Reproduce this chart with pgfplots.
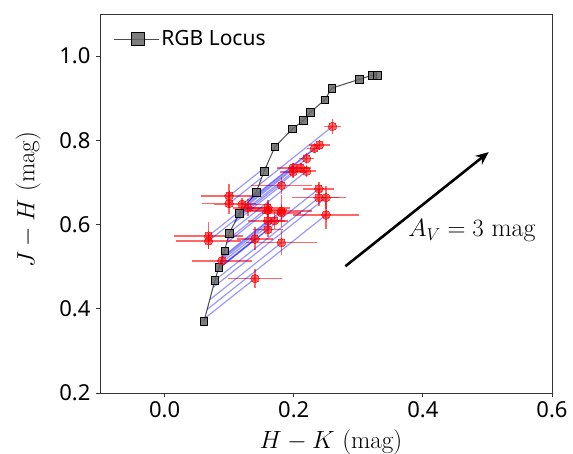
\documentclass[border=0pt]{standalone}
\usepackage{pgfplots}
\pgfplotsset{compat=1.18}
\usepackage{pgfplotstable}
\usepackage{fontspec}
\usetikzlibrary{arrows.meta}
\newfontfamily\tickfont{Noto Sans}

\pgfplotstableread{
x y ex ey
0.260 0.833 0.013 0.017
0.240 0.789 0.016 0.012
0.232 0.781 0.012 0.012
0.220 0.757 0.012 0.014
0.199 0.735 0.025 0.012
0.211 0.735 0.015 0.012
0.199 0.725 0.020 0.015
0.220 0.727 0.015 0.015
0.181 0.693 0.047 0.020
0.239 0.685 0.024 0.016
0.100 0.668 0.043 0.028
0.239 0.664 0.042 0.020
0.250 0.664 0.020 0.028
0.100 0.650 0.042 0.025
0.120 0.648 0.044 0.015
0.129 0.640 0.023 0.020
0.160 0.640 0.034 0.018
0.160 0.634 0.030 0.020
0.181 0.632 0.048 0.037
0.181 0.628 0.030 0.020
0.250 0.623 0.051 0.033
0.160 0.609 0.031 0.020
0.170 0.609 0.017 0.020
0.160 0.588 0.023 0.018
0.068 0.573 0.054 0.032
0.068 0.561 0.050 0.020
0.140 0.566 0.028 0.027
0.181 0.557 0.055 0.030
0.089 0.514 0.047 0.020
0.140 0.472 0.042 0.022
}\stars

\pgfplotstableread{
x y
0.061 0.370
0.078 0.468
0.084 0.498
0.093 0.538
0.100 0.579
0.116 0.627
0.142 0.677
0.154 0.726
0.171 0.785
0.198 0.827
0.215 0.847
0.226 0.867
0.248 0.896
0.259 0.924
0.302 0.945
0.322 0.955
0.329 0.955
}\locus

\begin{document}
\begin{tikzpicture}
\begin{axis}[
  name=main,
  scale only axis,
  width=452pt, height=379pt,
  xmin=-0.1, xmax=0.6, ymin=0.2, ymax=1.1,
  xtick={0,0.2,0.4,0.6}, ytick={0.2,0.4,0.6,0.8,1.0},
  tick pos=left, tick align=outside, major tick length=4pt,
  axis line style={draw=black!80, line width=0.8pt},
  every tick/.style={black!80, line width=0.8pt},
  /pgf/number format/.cd, fixed, fixed zerofill, precision=1, assume math mode=true,
  /pgfplots/.cd,
  tick label style={font=\tickfont\fontsize{22}{24}\selectfont},
  xticklabel style={yshift=-1pt},
  yticklabel style={xshift=-2pt},
  every axis x label/.style={at={(axis description cs:0.511,-0.131)}, anchor=center},
  every axis y label/.style={at={(axis description cs:-0.159,0.51)}, anchor=center, rotate=90},
  label style={font=\fontsize{25}{27}\selectfont},
  xlabel={$H-K$ (mag)},
  ylabel={$J-H$ (mag)},
  legend style={at={(axis description cs:0.029,0.934)}, anchor=west, draw=none, fill=none,
    font=\tickfont\fontsize{21}{24}\selectfont, inner sep=0pt},
  legend cell align=left,
  legend image code/.code={
    \draw[#1, mark=none] (0pt,0pt) -- (45pt,0pt);
    \draw[#1, only marks, mark size=6.5pt] plot coordinates {(23.5pt,0pt)};
  },
]
\addplot[draw=black!70, line width=1pt, mark=square*, mark size=3.8pt,
  mark options={fill=black!60, draw=black, fill opacity=0.85, line width=0.6pt}]
  table[x=x,y=y]{\locus};
\addlegendentry{RGB Locus}

\addplot[only marks, color=red, mark=*, mark size=4.2pt,
  mark options={fill=red, draw=red, line width=0pt, opacity=0.6},
  error bars/.cd, x dir=both, x explicit, y dir=both, y explicit,
  error mark=none,
  error bar style={red, opacity=0.6, line width=1.6pt}]
  table[x=x,y=y,x error=ex,y error=ey]{\stars};

\addplot[blue, opacity=0.4, line width=1.2pt] coordinates {(0.260,0.833) (0.1462,0.694)};
\addplot[blue, opacity=0.4, line width=1.2pt] coordinates {(0.240,0.789) (0.1312,0.656)};
\addplot[blue, opacity=0.4, line width=1.2pt] coordinates {(0.232,0.781) (0.1337,0.661)};
\addplot[blue, opacity=0.4, line width=1.2pt] coordinates {(0.220,0.757) (0.1204,0.6355)};
\addplot[blue, opacity=0.4, line width=1.2pt] coordinates {(0.199,0.735) (0.1255,0.645)};
\addplot[blue, opacity=0.4, line width=1.2pt] coordinates {(0.211,0.735) (0.1115,0.6136)};
\addplot[blue, opacity=0.4, line width=1.2pt] coordinates {(0.199,0.725) (0.1141,0.6214)};
\addplot[blue, opacity=0.4, line width=1.2pt] coordinates {(0.220,0.727) (0.1009,0.5817)};
\addplot[blue, opacity=0.4, line width=1.2pt] coordinates {(0.181,0.693) (0.1087,0.605)};
\addplot[blue, opacity=0.4, line width=1.2pt] coordinates {(0.239,0.685) (0.0834,0.4952)};
\addplot[blue, opacity=0.4, line width=1.2pt] coordinates {(0.100,0.668) (0.1575,0.738)};
\addplot[blue, opacity=0.4, line width=1.2pt] coordinates {(0.239,0.664) (0.0779,0.4675)};
\addplot[blue, opacity=0.4, line width=1.2pt] coordinates {(0.250,0.664) (0.075,0.4505)};
\addplot[blue, opacity=0.4, line width=1.2pt] coordinates {(0.100,0.650) (0.1505,0.7116)};
\addplot[blue, opacity=0.4, line width=1.2pt] coordinates {(0.120,0.648) (0.1389,0.671)};
\addplot[blue, opacity=0.4, line width=1.2pt] coordinates {(0.129,0.640) (0.1139,0.6207)};
\addplot[blue, opacity=0.4, line width=1.2pt] coordinates {(0.160,0.640) (0.0974,0.5636)};
\addplot[blue, opacity=0.4, line width=1.2pt] coordinates {(0.160,0.634) (0.0961,0.556)};
\addplot[blue, opacity=0.4, line width=1.2pt] coordinates {(0.181,0.632) (0.0889,0.5196)};
\addplot[blue, opacity=0.4, line width=1.2pt] coordinates {(0.181,0.628) (0.0876,0.5141)};
\addplot[blue, opacity=0.4, line width=1.2pt] coordinates {(0.250,0.623) (0.0659,0.3984)};
\addplot[blue, opacity=0.4, line width=1.2pt] coordinates {(0.160,0.609) (0.0897,0.5232)};
\addplot[blue, opacity=0.4, line width=1.2pt] coordinates {(0.170,0.609) (0.0859,0.5064)};
\addplot[blue, opacity=0.4, line width=1.2pt] coordinates {(0.160,0.588) (0.0833,0.4944)};
\addplot[blue, opacity=0.4, line width=1.2pt] coordinates {(0.068,0.573) (0.1224,0.6393)};
\addplot[blue, opacity=0.4, line width=1.2pt] coordinates {(0.068,0.561) (0.1118,0.6144)};
\addplot[blue, opacity=0.4, line width=1.2pt] coordinates {(0.140,0.566) (0.0839,0.4976)};
\addplot[blue, opacity=0.4, line width=1.2pt] coordinates {(0.181,0.557) (0.0699,0.4213)};
\addplot[blue, opacity=0.4, line width=1.2pt] coordinates {(0.089,0.514) (0.0871,0.5118)};
\addplot[blue, opacity=0.4, line width=1.2pt] coordinates {(0.140,0.472) (0.0622,0.3772)};

\addplot[black, line width=2.6pt, -{Stealth[length=13pt,width=11pt]}] coordinates {(0.280,0.501) (0.502,0.772)};
\node[font=\fontsize{26}{28}\selectfont] at (axis cs:0.476,0.585) {$A_V = 3$ mag};
\end{axis}
\pgfresetboundingbox
\path (main.south west) ++(-100pt,-61pt) coordinate (bl);
\path (main.north east) ++(21pt,14pt) coordinate (tr);
\path[use as bounding box] (bl) rectangle (tr);
\end{tikzpicture}
\end{document}
